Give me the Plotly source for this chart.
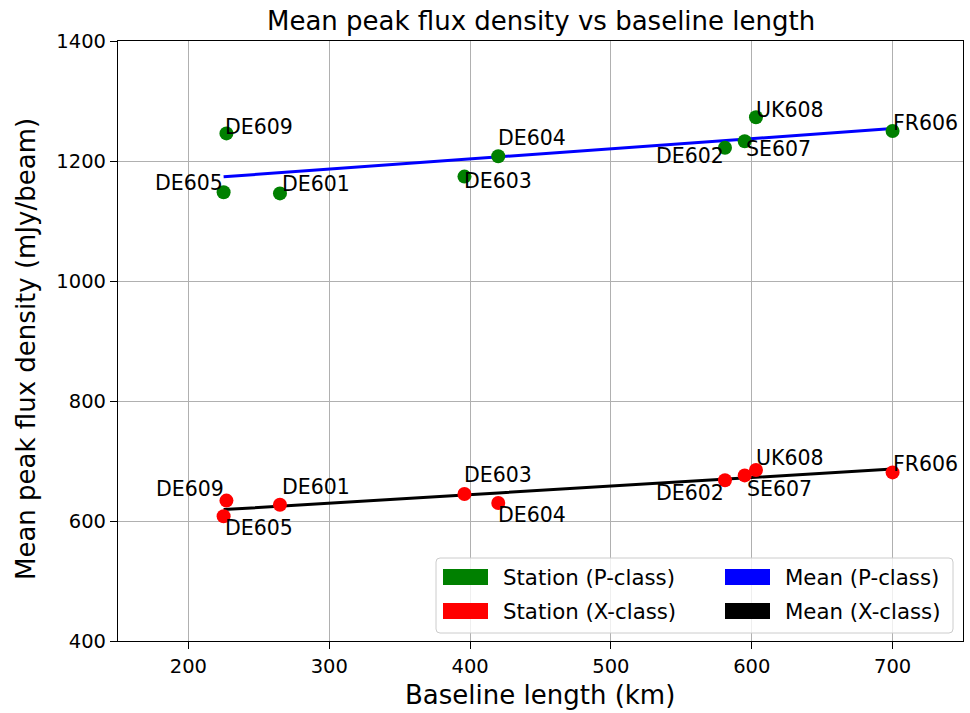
import numpy as np
import plotly.graph_objects as go

# Stations and their baseline lengths (km)
stations = ["DE601", "DE602", "DE603", "DE604", "DE605", "SE607", "FR606", "UK608", "DE609"]
baseline_km = [265, 581, 396, 420, 225, 595, 700, 603, 227]

# Mean peak flux density per station (mJy/beam)
flux_p_class = [1146, 1222, 1174, 1208, 1148, 1233, 1250, 1273, 1246]
flux_x_class = [627, 668, 645, 630, 608, 676, 681, 685, 634]

x_ticks = [200, 300, 400, 500, 600, 700]
y_ticks = [400, 600, 800, 1000, 1200, 1400]

# label placement per station: (anchor, xshift px, yshift px)
label_pos_p = {
    "DE605": ("right", 1, 9), "DE609": ("left", -3, 6), "DE601": ("left", 0, 9),
    "DE603": ("left", -2, -4), "DE604": ("left", -2, 18), "DE602": ("right", 1, -8),
    "SE607": ("left", -1, -8), "UK608": ("left", -2, 7), "FR606": ("left", -2, 8),
}
label_pos_x = {
    "DE605": ("left", -1, -12), "DE609": ("right", 0, 12), "DE601": ("left", 0, 18),
    "DE603": ("left", -2, 19), "DE604": ("left", -2, -12), "DE602": ("right", 1, -13),
    "SE607": ("left", 0, -14), "UK608": ("left", -2, 12), "FR606": ("left", -2, 8),
}

FONT = "DejaVu Sans"
W, H = 970, 713
ML, MR, MT, MB = 118, 7, 41, 72
PW, PH = W - ML - MR, H - MT - MB


def px(xp):
    return (xp - ML) / PW


def py(yp):
    return (H - MB - yp) / PH


bx = np.array(baseline_km, dtype=float)
order = np.argsort(bx)
xs = bx[order]

fig = go.Figure()

for vals, col in [(flux_p_class, "#0000ff"), (flux_x_class, "#000000")]:
    coef = np.polyfit(bx, np.array(vals, dtype=float), 1)
    fig.add_trace(go.Scatter(x=xs, y=np.polyval(coef, xs), mode="lines",
                             line=dict(color=col, width=3), showlegend=False,
                             hoverinfo="skip"))

for vals, col in [(flux_p_class, "#008000"), (flux_x_class, "#ff0000")]:
    fig.add_trace(go.Scatter(x=baseline_km, y=vals, mode="markers",
                             marker=dict(color=col, size=14, line=dict(width=0)),
                             showlegend=False, text=stations))

annotations = []
for vals, pos in [(flux_p_class, label_pos_p), (flux_x_class, label_pos_x)]:
    for name, xv, yv in zip(stations, baseline_km, vals):
        anchor, dx, dy = pos[name]
        annotations.append(dict(x=xv, y=yv, xref="x", yref="y", text=name,
                                showarrow=False, xanchor=anchor, yanchor="middle",
                                xshift=dx, yshift=dy,
                                font=dict(family=FONT, size=20.5, color="black")))

# title and axis titles
annotations.append(dict(x=px(541), y=py(21), xref="paper", yref="paper",
                        text="Mean peak flux density vs baseline length", showarrow=False,
                        xanchor="center", yanchor="middle",
                        font=dict(family=FONT, size=26, color="black")))
annotations.append(dict(x=px(540), y=py(695), xref="paper", yref="paper",
                        text="Baseline length (km)", showarrow=False,
                        xanchor="center", yanchor="middle",
                        font=dict(family=FONT, size=26, color="black")))
annotations.append(dict(x=px(26), y=py(349), xref="paper", yref="paper",
                        text="Mean peak flux density (mJy/beam)", showarrow=False,
                        textangle=-90, xanchor="center", yanchor="middle",
                        font=dict(family=FONT, size=26, color="black")))

# legend box (rounded, semi-transparent)
shapes = []
x0, x1, y0, y1, r = 436, 953, 558, 633, 4
rx, ry = r / PW, r / PH
X0, X1, Y0, Y1 = px(x0), px(x1), py(y1), py(y0)
path = (f"M {X0+rx},{Y0} L {X1-rx},{Y0} Q {X1},{Y0} {X1},{Y0+ry} "
        f"L {X1},{Y1-ry} Q {X1},{Y1} {X1-rx},{Y1} L {X0+rx},{Y1} "
        f"Q {X0},{Y1} {X0},{Y1-ry} L {X0},{Y0+ry} Q {X0},{Y0} {X0+rx},{Y0} Z")
shapes.append(dict(type="path", path=path, xref="paper", yref="paper",
                   fillcolor="rgba(255,255,255,0.8)", line=dict(color="#cccccc", width=1),
                   layer="above"))

legend_items = [
    ("Station (P-class)", "#008000", 443, 504, 577),
    ("Station (X-class)", "#ff0000", 443, 504, 611),
    ("Mean (P-class)", "#0000ff", 725, 786, 577),
    ("Mean (X-class)", "#000000", 725, 786, 611),
]
for label, col, patch_x, text_x, row_y in legend_items:
    shapes.append(dict(type="rect", xref="paper", yref="paper",
                       x0=px(patch_x), x1=px(patch_x + 45), y0=py(row_y + 8), y1=py(row_y - 8),
                       fillcolor=col, line=dict(width=0), layer="above"))
    annotations.append(dict(x=px(text_x - 3), y=py(row_y), xref="paper", yref="paper",
                            text=label, showarrow=False, xanchor="left", yanchor="middle",
                            font=dict(family=FONT, size=21.3, color="black")))

axis_common = dict(showgrid=True, gridcolor="#b0b0b0", gridwidth=1.1,
                   showline=True, linecolor="black", linewidth=1.2, mirror=True,
                   ticks="outside", ticklen=7, tickwidth=1.1, tickcolor="black",
                   tickfont=dict(family=FONT, size=19.5, color="black"), zeroline=False)

fig.update_layout(
    width=W, height=H, autosize=False,
    margin=dict(l=ML, r=MR, t=MT, b=MB),
    paper_bgcolor="white", plot_bgcolor="white",
    xaxis=dict(range=[150, 750], tickvals=x_ticks, ticktext=[str(v) for v in x_ticks],
               **axis_common),
    yaxis=dict(range=[400, 1400], tickvals=y_ticks, ticktext=[str(v) for v in y_ticks],
               **axis_common),
    annotations=annotations, shapes=shapes, showlegend=False,
)

fig.write_html("out.html")
